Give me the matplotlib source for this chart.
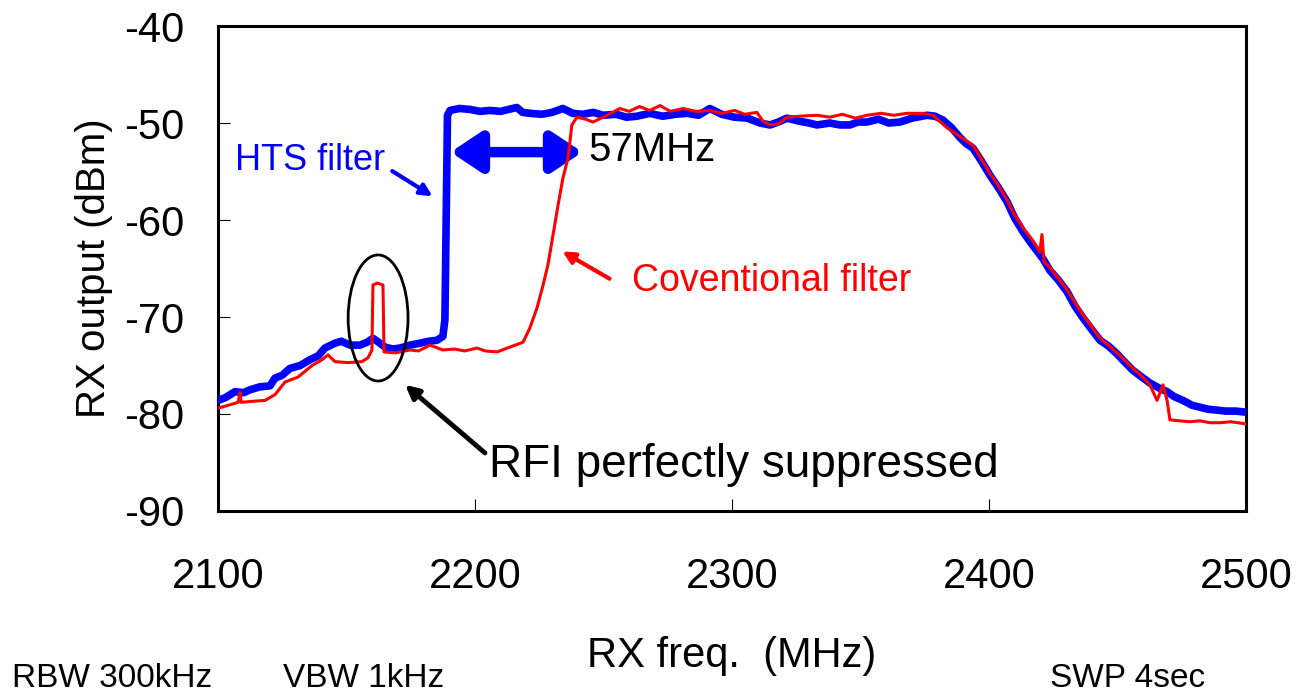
import matplotlib
matplotlib.use("Agg")
import matplotlib.pyplot as plt
from matplotlib.patches import Ellipse

plt.rcParams['font.family'] = ['Liberation Sans', 'DejaVu Sans']
plt.rcParams['axes.unicode_minus'] = False

# HTS filter trace (MHz, dBm)
hts_freq = [2100.0, 2103.0, 2106.6, 2110.0, 2112.5, 2116.3, 2120.2, 2122.2, 2125.0, 2128.0,
            2132.0, 2135.8, 2139.0, 2141.6, 2145.5, 2148.0, 2151.4, 2155.3, 2158.0, 2160.3,
            2162.5, 2165.0, 2168.0, 2170.8, 2174.7, 2178.6, 2182.0, 2185.2, 2187.5, 2188.3,
            2189.3, 2190.3, 2194.0, 2198.1, 2202.0, 2205.8, 2210.0, 2213.0, 2216.3, 2218.5,
            2221.4, 2226.0, 2230.0, 2234.2, 2238.0, 2242.0, 2246.0, 2249.8, 2255.0, 2259.0,
            2263.0, 2268.0, 2273.0, 2278.0, 2282.5, 2287.0, 2291.4, 2296.0, 2301.0, 2306.0,
            2310.9, 2314.8, 2318.0, 2321.4, 2326.0, 2330.0, 2333.1, 2338.0, 2342.0, 2345.9,
            2349.0, 2352.5, 2357.0, 2361.0, 2365.4, 2370.0, 2375.9, 2379.0, 2382.1, 2385.5,
            2388.7, 2391.0, 2393.8, 2397.0, 2400.4, 2403.5, 2407.0, 2410.0, 2413.2, 2417.0,
            2421.0, 2423.7, 2427.0, 2430.4, 2433.5, 2436.6, 2440.0, 2443.2, 2446.5, 2449.8,
            2453.0, 2456.0, 2459.0, 2462.6, 2466.0, 2469.3, 2472.0, 2475.5, 2479.0, 2482.1,
            2485.0, 2488.7, 2492.0, 2496.0, 2499.6]
hts_level = [-78.6, -78.3, -77.7, -77.8, -77.5, -77.2, -77.1, -76.3, -76.0, -75.3,
             -75.0, -74.4, -74.0, -73.2, -72.7, -72.5, -72.9, -72.9, -72.6, -72.2,
             -72.6, -73.1, -73.3, -73.2, -72.9, -72.7, -72.5, -72.4, -72.0, -70.3,
             -49.2, -48.7, -48.5, -48.6, -48.8, -48.7, -48.8, -48.6, -48.4, -48.9,
             -49.0, -49.1, -48.9, -48.5, -49.0, -49.1, -48.9, -49.2, -49.1, -49.4,
             -49.3, -49.0, -49.3, -49.1, -49.0, -49.2, -48.5, -49.1, -49.4, -49.5,
             -50.0, -50.2, -49.9, -49.5, -49.8, -50.0, -50.2, -50.0, -50.2, -50.2,
             -49.9, -49.9, -49.6, -50.0, -49.9, -49.5, -49.2, -49.3, -49.7, -50.5,
             -51.5, -52.1, -52.6, -53.9, -55.4, -56.6, -58.1, -59.8, -61.2, -62.6,
             -64.0, -65.2, -66.2, -67.4, -68.9, -70.1, -71.3, -72.4, -73.0, -73.8,
             -74.7, -75.5, -76.1, -76.8, -77.3, -77.7, -78.2, -78.6, -79.1, -79.3,
             -79.5, -79.6, -79.7, -79.7, -79.8]

# conventional filter trace (MHz, dBm)
conv_freq = [2100.0, 2104.0, 2107.8, 2108.6, 2109.0, 2113.0, 2118.3, 2122.2, 2126.1, 2131.1,
             2136.6, 2140.5, 2142.8, 2145.5, 2150.6, 2156.0, 2158.4, 2159.9, 2160.3, 2162.0,
             2164.2, 2164.6, 2169.0, 2174.7, 2178.0, 2182.5, 2187.5, 2192.0, 2196.0, 2200.8,
             2204.0, 2208.6, 2213.6, 2218.7, 2221.4, 2224.1, 2226.5, 2228.4, 2230.4, 2232.3,
             2234.2, 2236.2, 2237.7, 2239.7, 2243.0, 2245.9, 2251.4, 2256.4, 2260.0, 2264.0,
             2268.0, 2272.0, 2276.0, 2281.0, 2286.0, 2291.4, 2296.0, 2301.0, 2305.0, 2309.7,
             2312.0, 2314.8, 2318.0, 2321.4, 2326.0, 2333.1, 2338.0, 2343.0, 2348.0, 2352.5,
             2358.0, 2363.0, 2368.0, 2374.3, 2378.2, 2383.7, 2388.7, 2393.8, 2397.0, 2400.4,
             2403.5, 2407.0, 2410.0, 2413.2, 2417.0, 2419.8, 2420.6, 2421.4, 2423.7, 2427.0,
             2430.4, 2433.5, 2436.6, 2440.0, 2443.2, 2446.5, 2449.8, 2453.0, 2456.0, 2459.0,
             2462.6, 2465.4, 2467.7, 2469.3, 2470.4, 2474.0, 2478.2, 2482.0, 2486.0, 2489.9,
             2494.0, 2499.6]
conv_level = [-79.4, -79.1, -78.8, -77.8, -78.8, -78.7, -78.6, -78.0, -76.7, -76.2,
              -75.0, -74.4, -73.9, -74.6, -74.7, -74.6, -74.2, -73.4, -66.7, -66.5,
              -66.7, -73.6, -73.7, -73.4, -73.5, -72.9, -73.4, -73.3, -73.5, -73.2,
              -73.5, -73.6, -73.1, -72.6, -71.1, -69.1, -66.7, -64.6, -61.5, -58.5,
              -55.7, -53.6, -50.2, -49.4, -49.6, -49.9, -49.2, -48.5, -48.8, -48.3,
              -48.7, -48.2, -48.8, -48.5, -48.8, -48.7, -49.0, -48.7, -49.1, -48.9,
              -49.8, -50.2, -50.1, -49.4, -49.3, -49.2, -49.4, -49.1, -49.5, -49.2,
              -49.0, -49.2, -49.0, -49.0, -49.2, -50.5, -51.4, -52.3, -53.7, -55.2,
              -56.4, -57.9, -59.5, -60.8, -62.1, -63.3, -61.5, -64.3, -64.9, -66.0,
              -67.2, -68.5, -69.8, -71.0, -72.2, -72.9, -73.7, -74.5, -75.3, -76.0,
              -77.0, -78.6, -77.0, -78.6, -80.6, -80.7, -80.8, -80.7, -80.9, -80.9,
              -80.8, -81.0]

x_ticks = [2100, 2200, 2300, 2400, 2500]
y_ticks = [-90, -80, -70, -60, -50, -40]

fig = plt.figure(figsize=(12.99, 6.94), dpi=100)
ax = fig.add_axes([0.1678, 0.2637, 0.7914, 0.6988])

ax.plot(hts_freq, hts_level, color='#0000FF', lw=5.5, solid_joinstyle='round', zorder=3)
ax.plot(conv_freq, conv_level, color='#FF0000', lw=2.2, zorder=4)

ax.set_xlim(2100, 2500)
ax.set_ylim(-90, -40)
ax.set_xticks(x_ticks)
ax.set_yticks(y_ticks)
ax.tick_params(direction='in', length=8.5, width=0.8, labelsize=30)
ax.tick_params(axis='x', pad=33)
ax.tick_params(axis='y', pad=24)
for s in ax.spines.values():
    s.set_linewidth(2.2)

ax.set_xlabel('RX freq.  (MHz)', fontsize=30, labelpad=28)
ax.set_ylabel('RX output (dBm)', fontsize=29, labelpad=8)

# RFI marker
ax.add_patch(Ellipse((2162.3, -70.1), 23.3, 13.0, fill=False, ec='black', lw=2, zorder=5))
ax.annotate('', xy=(2172.0, -76.8), xytext=(2204.7, -84.2),
            arrowprops=dict(arrowstyle='-|>,head_length=0.8,head_width=0.4', color='black', lw=3.5))
ax.text(2205.5, -85.3, 'RFI perfectly suppressed', fontsize=33, va='center')

# labels for traces
ax.text(2106.5, -53.9, 'HTS filter', fontsize=26, color='#0000FF', va='center')
ax.annotate('', xy=(2184.4, -57.7), xytext=(2166.9, -54.8),
            arrowprops=dict(arrowstyle='-|>,head_length=0.7,head_width=0.35', color='#0000FF', lw=3))
ax.text(2261.0, -66.3, 'Coventional filter', fontsize=27, color='#FF0000', va='center')
ax.annotate('', xy=(2233.1, -63.1), xytext=(2253.3, -66.2),
            arrowprops=dict(arrowstyle='-|>,head_length=0.7,head_width=0.35', color='#FF0000', lw=3))

# 57 MHz bandwidth difference
ax.annotate('', xy=(2190.5, -53.0), xytext=(2241.8, -53.0),
            arrowprops=dict(arrowstyle='<|-|>,head_length=0.6,head_width=0.4',
                            color='#0000FF', lw=7.5, mutation_scale=30, shrinkA=0, shrinkB=0))
ax.text(2244.0, -52.8, '57MHz', fontsize=29, va='center')

fig.text(0.009, 0.022, 'RBW 300kHz', fontsize=24, va='center')
fig.text(0.218, 0.022, 'VBW 1kHz', fontsize=24, va='center')
fig.text(0.808, 0.022, 'SWP 4sec', fontsize=24, va='center')

fig.savefig('out.png', dpi=100)
